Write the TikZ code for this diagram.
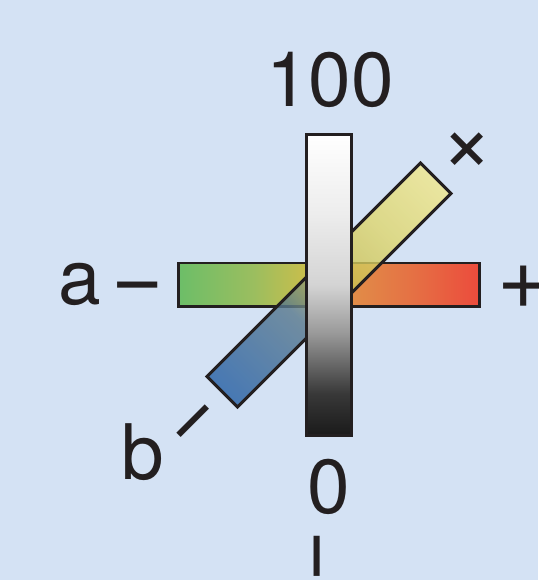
\documentclass[tikz,border=0pt]{standalone}
\usepackage{fontspec}
\setmainfont{TeX Gyre Heros}
\usepackage{xcolor}
\usepackage{tikz}
\usetikzlibrary{positioning}
\definecolor{skybg}{RGB}{212, 226, 244}
\definecolor{inkdark}{RGB}{35, 31, 32}
\definecolor{agreen}{RGB}{108, 190, 104}
\definecolor{aolive}{RGB}{155, 190, 95}
\definecolor{ayellow}{RGB}{200, 190, 76}
\definecolor{aorange}{RGB}{225, 140, 72}
\definecolor{aredor}{RGB}{229, 112, 68}
\definecolor{ared}{RGB}{236, 75, 60}
\definecolor{bblue}{RGB}{36, 94, 164}
\definecolor{bgrey}{RGB}{88, 120, 140}
\definecolor{bolive}{RGB}{203, 193, 82}
\definecolor{bsand}{RGB}{222, 214, 110}
\definecolor{bpale}{RGB}{240, 231, 140}

\pgfdeclareverticalshading{lshade}{100bp}{color(0bp)=(black!90); color(25bp)=(black!90); color(32bp)=(black!78); color(42bp)=(black!40); color(50bp)=(black!17); color(62bp)=(black!7); color(75bp)=(white); color(100bp)=(white)}
\pgfdeclarehorizontalshading{ashade}{100bp}{color(0bp)=(agreen); color(25bp)=(agreen); color(37.5bp)=(aolive); color(46bp)=(ayellow); color(54bp)=(aorange); color(64bp)=(aredor); color(75bp)=(ared); color(100bp)=(ared)}
\pgfdeclarehorizontalshading{bshade}{100bp}{color(0bp)=(bblue); color(25bp)=(bblue); color(42.5bp)=(bgrey); color(52.5bp)=(bolive); color(62.5bp)=(bsand); color(75bp)=(bpale); color(100bp)=(bpale)}

\begin{document}
\begin{tikzpicture}[
        x=0.02cm, y=0.02cm,
        bar/.style={rectangle, draw=inkdark, line width=1.7pt, inner sep=0pt},
        lbl/.style={font=\fontsize{43.6pt}{52pt}\selectfont, text=inkdark, inner sep=0pt},
        sgn/.style={font=\fontsize{51pt}{60pt}\selectfont, text=inkdark, inner sep=0pt, text height=25.5pt, text depth=0pt, anchor=center}
    ]
        \fill[skybg] (0,0) rectangle (538,580);
        \useasboundingbox (0,0) rectangle (538,580);
        \coordinate (ctr) at (329,295);

        % the three axes
        \node[bar, shading=ashade, minimum width=6.04cm, minimum height=0.88cm] (abar) at (ctr) {};
        \begin{scope}[transform canvas={rotate around={45:(ctr)}}]
            \node[bar, shading=bshade, fill opacity=0.8, minimum width=6.04cm, minimum height=0.86cm] (bbar) at (ctr) {};
        \end{scope}
        \node[bar, shading=lshade, minimum width=0.9cm, minimum height=6.04cm] (lbar) at (ctr) {};

        % labels
        \node[lbl, anchor=base] (ltop) at (330,473) {100};
        \node[lbl, anchor=base] (lbot) at (329,66) {0};
        \node[lbl, anchor=base] (alab) at (80,275) {a};
        \node[lbl, anchor=base] (blab) at (143,100) {b};
        \node[sgn] (aneg) at (138,295) {−};
        \node[sgn] (apos) at (524,294) {+};
        \node[sgn, rotate=45] (bneg) at (193.5,158.5) {−};
        \node[sgn, rotate=45] (bpos) at (467,431) {+};
        \node[sgn, rotate=90] (lneg) at (317.5,24) {−};
\end{tikzpicture}
\end{document}
